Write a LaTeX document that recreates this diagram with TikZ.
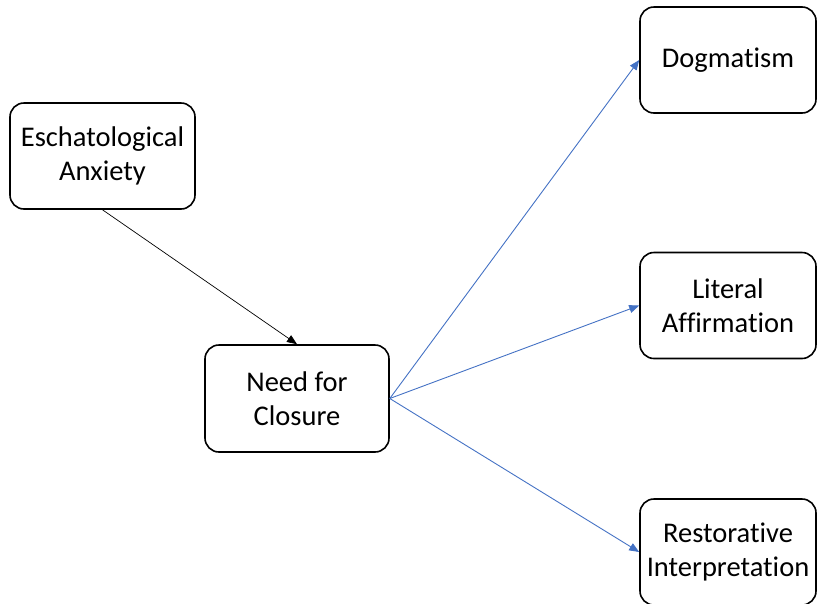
\documentclass[tikz,border=0pt]{standalone}
\usepackage{fontspec}
\setmainfont{Carlito}[RawFeature=-liga]
\usetikzlibrary{arrows.meta}
\definecolor{arrowblue}{RGB}{68,114,196}
\tikzset{
  box/.style={draw,rounded corners=14pt,line width=1.6pt,inner sep=2pt,
    align=center,font=\fontsize{28.5}{34}\selectfont},
  tip/.style={-{Triangle[length=10pt,width=8pt]}}
}
\begin{document}
\begin{tikzpicture}[x=1pt,y=-1pt]
  \clip (0,0) rectangle (817,603);
  \node[box,minimum width=185pt,minimum height=106pt] (anx) at (102.5,156) {Eschatological\\Anxiety};
  \node[box,minimum width=184pt,minimum height=107pt] (nfc) at (297,398.5) {Need for\\Closure};
  \node[box,minimum width=176pt,minimum height=106pt] (dog) at (728,60) {Dogmatism};
  \node[box,minimum width=176pt,minimum height=106pt] (lit) at (728,305.5) {Literal\\Affirmation};
  \node[box,minimum width=176pt,minimum height=106pt] (res) at (728,552) {Restorative\\Interpretation};
  \draw[tip,line width=0.7pt] (anx.south) -- (nfc.north);
  \draw[tip,arrowblue,line width=0.9pt] (nfc.east) -- (dog.west);
  \draw[tip,arrowblue,line width=0.9pt] (nfc.east) -- (lit.west);
  \draw[tip,arrowblue,line width=0.9pt] (nfc.east) -- (res.west);
\end{tikzpicture}
\end{document}
